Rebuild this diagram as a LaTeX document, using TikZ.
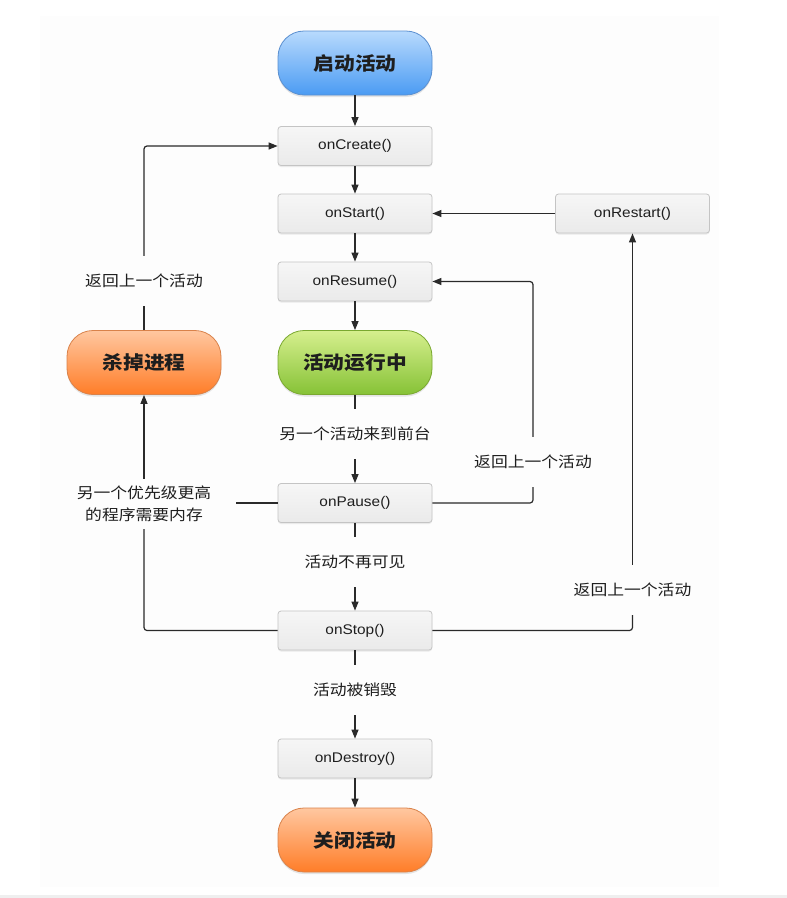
\documentclass[tikz,border=0pt]{standalone}
\usepackage{fontspec}
\setmainfont{Liberation Sans}[FakeStretch=1.1]
\newfontfamily\cjk{Noto Sans CJK SC}[FakeStretch=1.12]
\usetikzlibrary{arrows.meta,shadows}
\definecolor{panel}{HTML}{FDFDFD}
\definecolor{strip}{HTML}{EFEFEF}
\definecolor{lineclr}{HTML}{2A2A2A}
\definecolor{txt}{HTML}{1E1E1E}
\definecolor{boxtop}{HTML}{F6F6F6}
\definecolor{boxbot}{HTML}{EAEAEA}
\definecolor{boxborder}{HTML}{C4C4C4}
\definecolor{bluetop}{HTML}{B8DAFD}
\definecolor{bluebot}{HTML}{4B9BF3}
\definecolor{blueborder}{HTML}{5A8FD0}
\definecolor{greentop}{HTML}{D6EF8E}
\definecolor{greenbot}{HTML}{86C236}
\definecolor{greenborder}{HTML}{7AA830}
\definecolor{orangetop}{HTML}{FFC7A0}
\definecolor{orangebot}{HTML}{FF7D28}
\definecolor{orangeborder}{HTML}{D9824A}
\begin{document}
\begin{tikzpicture}[x=1pt,y=-1pt,
  box/.style={draw=boxborder, top color=boxtop, bottom color=boxbot, rounded corners=3pt,
    minimum width=154pt, minimum height=39pt, line width=0.8pt, text=txt,
    font=\fontsize{14}{16}\selectfont,
    drop shadow={opacity=0.15, shadow xshift=0pt, shadow yshift=-1.5pt}},
  pill/.style={rounded corners=26pt, minimum width=154pt, minimum height=64pt, line width=0.8pt,
    text=txt, font=\cjk\bfseries\fontsize{18.5}{21}\selectfont,
    drop shadow={opacity=0.2, shadow xshift=0pt, shadow yshift=-2pt}},
  bluepill/.style={pill, draw=blueborder, top color=bluetop, bottom color=bluebot},
  greenpill/.style={pill, draw=greenborder, top color=greentop, bottom color=greenbot},
  orangepill/.style={pill, draw=orangeborder, top color=orangetop, bottom color=orangebot},
  lbl/.style={font=\cjk\fontsize{15}{22}\selectfont, text=txt, inner xsep=0pt, minimum height=50pt, align=center},
  ln/.style={draw=lineclr, line width=1.2pt, rounded corners=3pt},
  arr/.style={ln, -{Triangle[length=9pt,width=7pt]}}
]
\useasboundingbox (0,0) rectangle (787,898);
\fill[panel] (40,16) rectangle (719,887);
\fill[strip] (0,895) rectangle (787,898);

% main column
\node[bluepill] (start) at (355,63) {启动活动};
\node[box] (create) at (355,146) {onCreate()};
\node[box] (onstart) at (355,213.5) {onStart()};
\node[box] (restart) at (632.5,213.5) {onRestart()};
\node[box] (resume) at (355,281.5) {onResume()};
\node[greenpill] (run) at (355,362.5) {活动运行中};
\node[orangepill] (kill) at (144,362.5) {杀掉进程};
\node[lbl] (l1) at (355,434) {另一个活动来到前台};
\node[box] (pause) at (355,503) {onPause()};
\node[lbl] (l2) at (355,562) {活动不再可见};
\node[box] (stop) at (355,630.5) {onStop()};
\node[lbl] (l3) at (355,690) {活动被销毁};
\node[box] (destroy) at (355,758.5) {onDestroy()};
\node[orangepill] (finish) at (355,840) {关闭活动};

% side labels
\node[lbl] (lb) at (144,281) {返回上一个活动};
\node[lbl, inner xsep=25pt] (lk) at (144,504) {另一个优先级更高\\的程序需要内存};
\node[lbl] (r1) at (533,462) {返回上一个活动};
\node[lbl] (r2) at (632.5,590) {返回上一个活动};

% main flow
\draw[arr] (start) -- (create);
\draw[arr] (create) -- (onstart);
\draw[arr] (onstart) -- (resume);
\draw[arr] (resume) -- (run);
\draw[ln] (run) -- (l1);
\draw[arr] (l1) -- (pause);
\draw[ln] (pause) -- (l2);
\draw[arr] (l2) -- (stop);
\draw[ln] (stop) -- (l3);
\draw[arr] (l3) -- (destroy);
\draw[arr] (destroy) -- (finish);
\draw[arr] (restart) -- (onstart);

% left loop
\draw[ln] (kill) -- (lb);
\draw[arr] (lb.north) |- (create.west);
\draw[ln] (pause.west) -- (pause.west -| lk.east);
\draw[ln] (stop.west) -| (lk.south);
\draw[arr] (lk) -- (kill);

% right loops
\draw[ln] (pause.east) -| (r1.south);
\draw[arr] (r1.north) |- (resume.east);
\draw[ln] (stop.east) -| (r2.south);
\draw[arr] (r2) -- (restart);
\end{tikzpicture}
\end{document}
